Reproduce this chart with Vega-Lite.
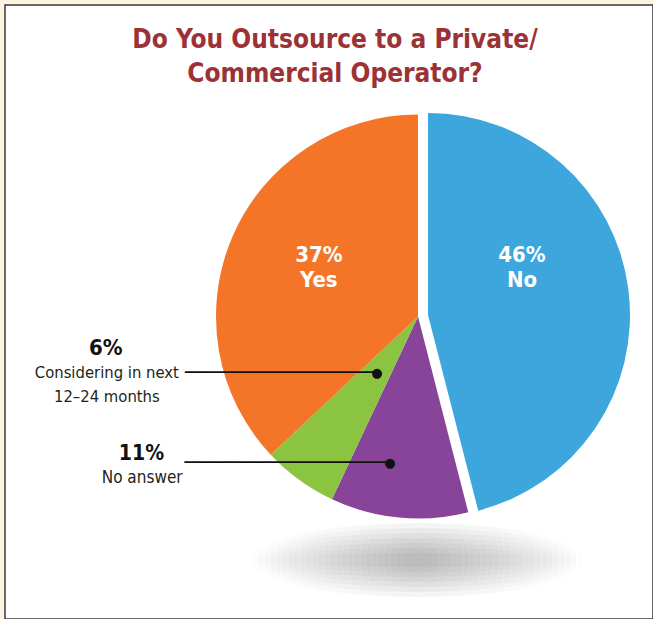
{
  "$schema": "https://vega.github.io/schema/vega-lite/v6.json",
  "description": "Do You Outsource to a Private/Commercial Operator?",
  "width": 648,
  "height": 614,
  "autosize": {"type": "none"},
  "padding": {"left": 5, "top": 5, "right": 0, "bottom": 0},
  "background": "#fcf3e3",
  "view": {"fill": "#ffffff", "stroke": "#3a3a3a", "strokeWidth": 1.5},
  "config": {
    "view": {"fill": "#ffffff", "stroke": "#3a3a3a", "strokeWidth": 1.5},
    "style": {"cell": {"fill": "#ffffff", "stroke": "#3a3a3a", "strokeWidth": 1.5}}
  },
  "title": {
    "text": ["Do You Outsource to a Private/", "Commercial Operator?"],
    "font": "DejaVu Sans Condensed, sans-serif",
    "fontSize": 26,
    "fontWeight": "bold",
    "color": "#9c3136",
    "lineHeight": 34,
    "anchor": "middle",
    "frame": "group",
    "baseline": "alphabetic",
    "offset": -60,
    "dx": 6,
    "dy": 43
  },
  "data": {
    "values": [
      {"answer": "No", "share": 0.46, "order": 1},
      {"answer": "No answer", "share": 0.11, "order": 2},
      {"answer": "Considering in next\n12–24 months", "share": 0.06, "order": 3},
      {"answer": "Yes", "share": 0.37, "order": 4}
    ]
  },
  "layer": [
    {
      "data": {"values": [{}]},
      "layer": [
        {
          "mark": {"type": "point", "shape": "M -1 0 A 1 0.22 0 1 1 1 0 A 1 0.22 0 1 1 -1 0 Z", "size": 112225, "filled": true, "opacity": 1, "strokeWidth": 0, "xOffset": 88.5, "yOffset": 248,
            "fill": {"gradient": "radial", "stops": [{"offset": 0, "color": "rgba(130,131,134,0.11)"}, {"offset": 1, "color": "rgba(130,131,134,0)"}]}},
          "encoding": {}
        },
        {
          "mark": {"type": "point", "shape": "M -1 0 A 1 0.19 0 1 1 1 0 A 1 0.19 0 1 1 -1 0 Z", "size": 112225, "filled": true, "opacity": 1, "strokeWidth": 0, "xOffset": 88.5, "yOffset": 248,
            "fill": {"gradient": "radial", "stops": [{"offset": 0, "color": "rgba(130,131,134,0.11)"}, {"offset": 1, "color": "rgba(130,131,134,0)"}]}},
          "encoding": {}
        },
        {
          "mark": {"type": "point", "shape": "M -1 0 A 1 0.16 0 1 1 1 0 A 1 0.16 0 1 1 -1 0 Z", "size": 112225, "filled": true, "opacity": 1, "strokeWidth": 0, "xOffset": 88.5, "yOffset": 248,
            "fill": {"gradient": "radial", "stops": [{"offset": 0, "color": "rgba(130,131,134,0.11)"}, {"offset": 1, "color": "rgba(130,131,134,0)"}]}},
          "encoding": {}
        },
        {
          "mark": {"type": "point", "shape": "M -1 0 A 1 0.13 0 1 1 1 0 A 1 0.13 0 1 1 -1 0 Z", "size": 112225, "filled": true, "opacity": 1, "strokeWidth": 0, "xOffset": 88.5, "yOffset": 248,
            "fill": {"gradient": "radial", "stops": [{"offset": 0, "color": "rgba(130,131,134,0.11)"}, {"offset": 1, "color": "rgba(130,131,134,0)"}]}},
          "encoding": {}
        },
        {
          "mark": {"type": "point", "shape": "M -1 0 A 1 0.10 0 1 1 1 0 A 1 0.10 0 1 1 -1 0 Z", "size": 112225, "filled": true, "opacity": 1, "strokeWidth": 0, "xOffset": 88.5, "yOffset": 248,
            "fill": {"gradient": "radial", "stops": [{"offset": 0, "color": "rgba(130,131,134,0.11)"}, {"offset": 1, "color": "rgba(130,131,134,0)"}]}},
          "encoding": {}
        },
        {
          "mark": {"type": "point", "shape": "M -1 0 A 1 0.07 0 1 1 1 0 A 1 0.07 0 1 1 -1 0 Z", "size": 112225, "filled": true, "opacity": 1, "strokeWidth": 0, "xOffset": 88.5, "yOffset": 248,
            "fill": {"gradient": "radial", "stops": [{"offset": 0, "color": "rgba(130,131,134,0.11)"}, {"offset": 1, "color": "rgba(130,131,134,0)"}]}},
          "encoding": {}
        },
        {
          "mark": {"type": "point", "shape": "M -1 0 A 1 0.04 0 1 1 1 0 A 1 0.04 0 1 1 -1 0 Z", "size": 112225, "filled": true, "opacity": 1, "strokeWidth": 0, "xOffset": 88.5, "yOffset": 248,
            "fill": {"gradient": "radial", "stops": [{"offset": 0, "color": "rgba(130,131,134,0.11)"}, {"offset": 1, "color": "rgba(130,131,134,0)"}]}},
          "encoding": {}
        }
      ]
    },
    {
      "encoding": {
        "theta": {"field": "share", "type": "quantitative", "stack": true},
        "order": {"field": "order", "type": "quantitative"}
      },
      "layer": [
        {
          "mark": {"type": "arc", "outerRadius": 202, "xOffset": 89, "yOffset": 4.5},
          "encoding": {
            "color": {
              "field": "answer",
              "type": "nominal",
              "scale": {
                "domain": ["No", "No answer", "Considering in next\n12–24 months", "Yes"],
                "range": ["#3ca6dd", "#884499", "#8bc441", "#f47528"]
              },
              "legend": null
            },
            "opacity": {"condition": {"test": "datum.order === 1", "value": 0}, "value": 1}
          }
        },
        {
          "mark": {"type": "arc", "outerRadius": 202, "xOffset": 99, "yOffset": 3},
          "encoding": {
            "color": {"field": "answer", "type": "nominal", "legend": null},
            "opacity": {"condition": {"test": "datum.order === 1", "value": 1}, "value": 0}
          }
        },
        {
          "mark": {"type": "text", "radius": 108, "dx": 89, "dy": -7, "font": "DejaVu Sans Condensed, sans-serif", "fontWeight": "bold", "fontSize": 22, "fill": "#ffffff", "align": "center", "baseline": "alphabetic"},
          "encoding": {"text": {"condition": {"test": "datum.order === 4", "field": "share", "type": "quantitative", "format": ".0%"}, "value": ""}}
        },
        {
          "mark": {"type": "text", "radius": 108, "dx": 89, "dy": 18, "font": "DejaVu Sans Condensed, sans-serif", "fontWeight": "bold", "fontSize": 22, "fill": "#ffffff", "align": "center", "baseline": "alphabetic"},
          "encoding": {"text": {"condition": {"test": "datum.order === 4", "field": "answer"}, "value": ""}}
        },
        {
          "mark": {"type": "text", "radius": 95, "dx": 98.75, "dy": -38, "font": "DejaVu Sans Condensed, sans-serif", "fontWeight": "bold", "fontSize": 22, "fill": "#ffffff", "align": "center", "baseline": "alphabetic"},
          "encoding": {"text": {"condition": {"test": "datum.order === 1", "field": "share", "type": "quantitative", "format": ".0%"}, "value": ""}}
        },
        {
          "mark": {"type": "text", "radius": 95, "dx": 98.75, "dy": -13, "font": "DejaVu Sans Condensed, sans-serif", "fontWeight": "bold", "fontSize": 22, "fill": "#ffffff", "align": "center", "baseline": "alphabetic"},
          "encoding": {"text": {"condition": {"test": "datum.order === 1", "field": "answer"}, "value": ""}}
        },
        {
          "mark": {"type": "text", "radius": 70, "dx": 89, "dy": 4.5, "font": "DejaVu Sans Mono", "fontSize": 22.75, "fill": "#111111", "align": "right", "baseline": "middle"},
          "encoding": {"text": {"condition": {"test": "datum.order === 3", "value": "──────────────"}, "value": ""}}
        },
        {
          "mark": {"type": "text", "radius": 70, "dx": 89, "dy": 4.5, "font": "DejaVu Sans", "fontSize": 13, "fill": "#111111", "align": "center", "baseline": "middle"},
          "encoding": {"text": {"condition": {"test": "datum.order === 3", "value": "●"}, "value": ""}}
        },
        {
          "mark": {"type": "text", "radius": 70, "dx": -182, "dy": -13.5, "font": "DejaVu Sans Condensed, sans-serif", "fontWeight": "bold", "fontSize": 22, "fill": "#111111", "align": "center", "baseline": "alphabetic"},
          "encoding": {"text": {"condition": {"test": "datum.order === 3", "field": "share", "type": "quantitative", "format": ".0%"}, "value": ""}}
        },
        {
          "mark": {"type": "text", "radius": 70, "dx": -181, "dy": 9.5, "font": "DejaVu Sans Condensed, sans-serif", "fontSize": 16.5, "lineHeight": 23.5, "lineBreak": "\n", "fill": "#231f20", "align": "center", "baseline": "alphabetic"},
          "encoding": {"text": {"condition": {"test": "datum.order === 3", "field": "answer"}, "value": ""}}
        },
        {
          "mark": {"type": "text", "radius": 147, "dx": 74.8, "dy": 4.7, "font": "DejaVu Sans Mono", "fontSize": 22.75, "fill": "#111111", "align": "right", "baseline": "middle"},
          "encoding": {"text": {"condition": {"test": "datum.order === 2", "value": "───────────────"}, "value": ""}}
        },
        {
          "mark": {"type": "text", "radius": 147, "dx": 74.8, "dy": 4.7, "font": "DejaVu Sans", "fontSize": 13, "fill": "#111111", "align": "center", "baseline": "middle"},
          "encoding": {"text": {"condition": {"test": "datum.order === 2", "value": "●"}, "value": ""}}
        },
        {
          "mark": {"type": "text", "radius": 147, "dx": -173.7, "dy": 1.7, "font": "DejaVu Sans Condensed, sans-serif", "fontWeight": "bold", "fontSize": 21, "fill": "#111111", "align": "center", "baseline": "alphabetic"},
          "encoding": {"text": {"condition": {"test": "datum.order === 2", "field": "share", "type": "quantitative", "format": ".0%"}, "value": ""}}
        },
        {
          "mark": {"type": "text", "radius": 147, "dx": -173, "dy": 24.7, "font": "DejaVu Sans Condensed, sans-serif", "fontSize": 17, "fill": "#231f20", "align": "center", "baseline": "alphabetic"},
          "encoding": {"text": {"condition": {"test": "datum.order === 2", "field": "answer"}, "value": ""}}
        }
      ]
    }
  ]
}
